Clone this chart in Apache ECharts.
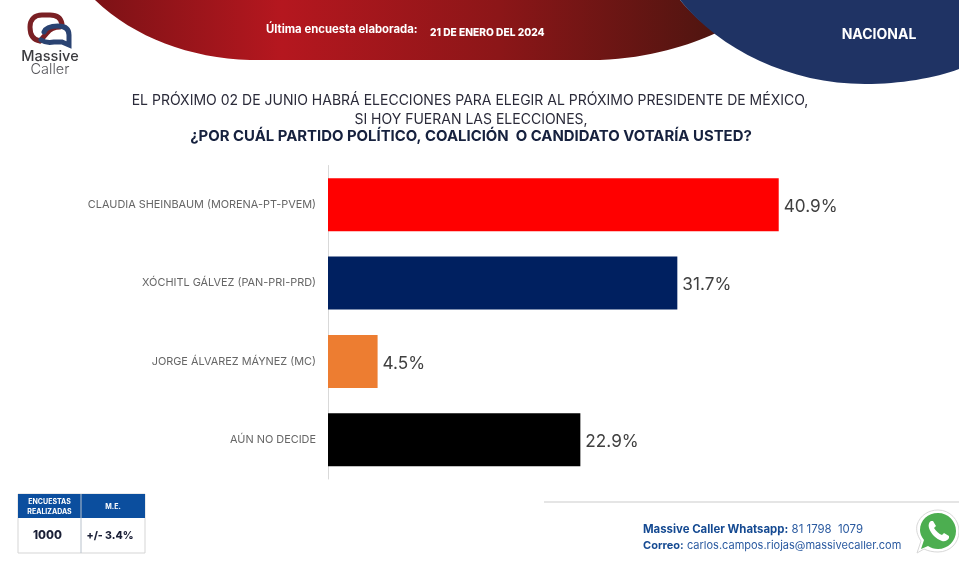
<!DOCTYPE html>
<html>
<head>
<meta charset="utf-8">
<script src="https://cdn.jsdelivr.net/npm/echarts@6/dist/echarts.min.js"></script>
<style>
  html, body { margin: 0; padding: 0; background: #fff; }
  #chart { width: 959px; height: 576px; }
</style>
</head>
<body>
<div id="chart"></div>
<script>
var categories = [
  'CLAUDIA SHEINBAUM (MORENA-PT-PVEM)',
  'XÓCHITL GÁLVEZ (PAN-PRI-PRD)',
  'JORGE ÁLVAREZ MÁYNEZ (MC)',
  'AÚN NO DECIDE'
];
var values = [40.9, 31.7, 4.5, 22.9];
var barColors = ['#ff0000', '#002060', '#ed7d31', '#000000'];

var FONT = 'Inter, "Noto Sans", sans-serif';
var chart = echarts.init(document.getElementById('chart'));

// texto fijo del encabezado y pie
function txt(x, y, text, size, weight, color, align) {
  return {
    type: 'text', x: x, y: y, z: 10,
    style: {
      text: text, fontFamily: FONT, fontSize: size, fontWeight: weight,
      fill: color, align: align || 'left', verticalAlign: 'middle'
    }
  };
}

function redGradient() {
  return new echarts.graphic.LinearGradient(0, 0, 1, 0, [
    { offset: 0, color: '#7d1216' },
    { offset: 0.3, color: '#b5171f' },
    { offset: 0.65, color: '#8c1618' },
    { offset: 1, color: '#4f1510' }
  ]);
}

// formas decorativas (banner, logo, whatsapp)
function drawDecor() {
  return {
    type: 'group',
    children: [
      { type: 'path', shape: { pathData: 'M95,0 C135,38 190,58 250,60 L600,60 C650,58 690,45 716,33 C703,24 690,12 680,0 Z' },
        style: { fill: redGradient() } },
      { type: 'path', shape: { pathData: 'M680,0 C720,50 790,84 865,84 C900,84 935,78 959,69 L959,0 Z' },
        style: { fill: '#1f3364' } },
      // logo
      { type: 'path', shape: { pathData: 'M40,41 C33,40 30,35 30,27 C30,19 35,15 42,15 L50,15 C57,15 61,18 62,24 M40,41 L47,33 C50,29 54,27 60,27' },
        style: { fill: 'none', stroke: '#7a2024', lineWidth: 5, lineCap: 'round' } },
      { type: 'path', shape: { pathData: 'M44,32 C46,27 52,26 58,26 C65,26 69,29 69,35 L69,45 L62,42 L54,42 C48,43 44,42 41,40' },
        style: { fill: 'none', stroke: '#2a4372', lineWidth: 5, lineCap: 'round' } },
      // whatsapp
      { type: 'path', shape: { pathData: 'M917,553 L921,541 C917,535 916,530 917,525 C920,515 929,510 938,510 C950,510 959,520 959,531 C959,543 950,552 938,552 C933,552 928,551 924,549 Z' },
        style: { fill: '#ffffff', stroke: '#d8d8d8', lineWidth: 1 } },
      { type: 'path', shape: { pathData: 'M921,549 L924,540 C921,536 920,533 920,530 C920,520 928,513 938,513 C948,513 956,521 956,531 C956,541 948,549 938,549 C934,549 931,548 928,546 Z' },
        style: { fill: '#4cae50' } },
      { type: 'path', shape: { pathData: 'M931,521 C929,522 928,525 929,528 C931,534 936,539 942,541 C945,542 948,540 949,538 L949,536 L944,533 L942,535 C939,534 936,531 934,528 L936,526 L933,521 Z' },
        style: { fill: '#ffffff' } }
    ]
  };
}

chart.setOption({
  animation: false,
  backgroundColor: '#ffffff',
  grid: { left: 328, top: 165.5, width: 551, height: 313.5 },
  xAxis: { type: 'value', min: 0, max: 50, show: false },
  yAxis: {
    type: 'category',
    inverse: true,
    data: categories,
    axisTick: { show: false },
    axisLine: { lineStyle: { color: '#d9d9d9', width: 1 } },
    axisLabel: { fontFamily: FONT, fontSize: 10.9, color: '#666666', margin: 12, padding: [6, 0, 0, 0] }
  },
  series: [
    {
      type: 'bar',
      barWidth: 53,
      data: values.map(function (v, i) {
        return { value: v, itemStyle: { color: barColors[i] } };
      }),
      label: {
        show: true, position: 'right', distance: 5, formatter: '{c}%', offset: [0, 2],
        fontFamily: FONT, fontSize: 17.2, color: '#404040'
      }
    },
    {
      type: 'custom',
      coordinateSystem: 'none',
      silent: true,
      z: 0,
      data: [0],
      renderItem: drawDecor
    }
  ],
  graphic: [
    txt(266, 30, 'Última encuesta elaborada:', 11.35, 700, '#ffffff'),
    txt(430, 32.5, '21 DE ENERO DEL 2024', 10.2, 800, '#ffffff'),
    txt(879, 35, 'NACIONAL', 14, 700, '#ffffff', 'center'),
    txt(50, 57, 'Massive', 14.5, 500, '#3b3b3f', 'center'),
    txt(50, 70, 'Caller', 14.5, 300, '#55555a', 'center'),
    txt(470, 100.5, 'EL PRÓXIMO 02 DE JUNIO HABRÁ ELECCIONES PARA ELEGIR AL PRÓXIMO PRESIDENTE DE MÉXICO,', 14, 400, '#2b2b3a', 'center'),
    txt(471, 119.5, 'SI HOY FUERAN LAS ELECCIONES,', 14, 400, '#2b2b3a', 'center'),
    txt(471, 136.5, '¿POR CUÁL PARTIDO POLÍTICO, COALICIÓN  O CANDIDATO VOTARÍA USTED?', 14.9, 700, '#16213e', 'center'),
    { type: 'rect', shape: { x: 18, y: 494, width: 127, height: 59 }, z: 5, style: { fill: '#fff', stroke: '#d5d5d5', lineWidth: 1 } },
    { type: 'rect', shape: { x: 18, y: 494, width: 127, height: 24 }, z: 6, style: { fill: '#0b4e9e' } },
    { type: 'line', shape: { x1: 81, y1: 494, x2: 81, y2: 553 }, z: 7, style: { stroke: '#b9c2cc', lineWidth: 1 } },
    txt(49.5, 502, 'ENCUESTAS', 7, 700, '#ffffff', 'center'),
    txt(49.5, 512, 'REALIZADAS', 7, 700, '#ffffff', 'center'),
    txt(113, 507, 'M.E.', 7, 700, '#ffffff', 'center'),
    txt(47.5, 536, '1000', 11.5, 800, '#1a1f36', 'center'),
    txt(110, 536, '+/- 3.4%', 10.5, 800, '#1a1f36', 'center'),
    { type: 'line', shape: { x1: 544, y1: 502, x2: 959, y2: 502 }, z: 5, style: { stroke: '#dddddd', lineWidth: 1.5 } },
    {
      type: 'text', x: 643, y: 530, z: 10,
      style: {
        rich: { b: { fontFamily: FONT, fontSize: 11.4, fontWeight: 700, fill: '#154a92' }, n: { fontFamily: FONT, fontSize: 11.4, fill: '#2a5aa0' } },
        text: '{b|Massive Caller Whatsapp:} {n|81 1798  1079}', verticalAlign: 'middle'
      }
    },
    {
      type: 'text', x: 643, y: 546, z: 10,
      style: {
        rich: { b: { fontFamily: FONT, fontSize: 11, fontWeight: 700, fill: '#154a92' }, n: { fontFamily: FONT, fontSize: 11, fill: '#2a5aa0' } },
        text: '{b|Correo:} {n|carlos.campos.riojas@massivecaller.com}', verticalAlign: 'middle'
      }
    }
  ]
});
</script>
</body>
</html>
